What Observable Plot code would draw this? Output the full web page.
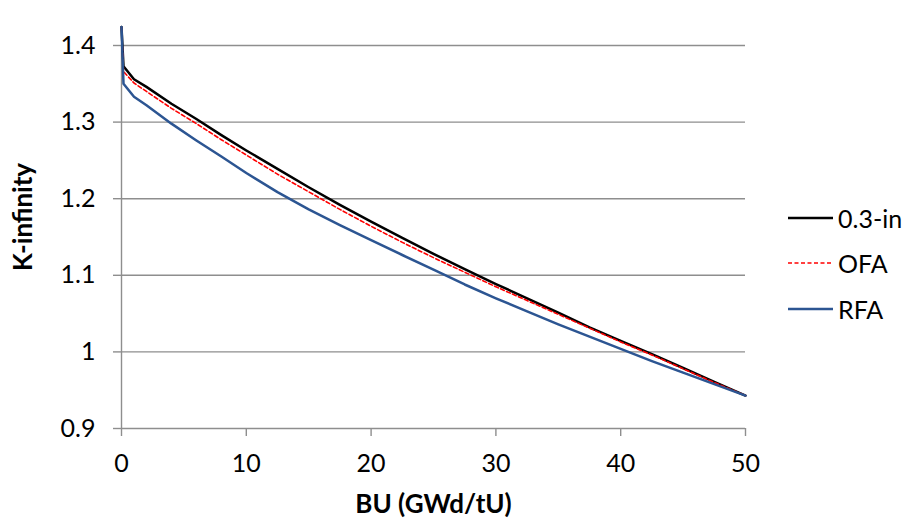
<!DOCTYPE html>
<html>
<head>
<meta charset="utf-8">
<script src="https://cdn.jsdelivr.net/npm/d3@7"></script>
<script src="https://cdn.jsdelivr.net/npm/@observablehq/plot@0.6"></script>
<style>
  html, body { margin: 0; padding: 0; background: #fff; }
  #wrap { position: relative; width: 907px; height: 520px; font-family: Lato, "Open Sans", sans-serif; }
  #legend { position: absolute; left: 788px; top: 195px; font-size: 25px; color: #000; }
  .item { display: flex; align-items: center; height: 45.5px; }
  .item svg { margin-right: 5px; }
</style>
</head>
<body>
<div id="wrap"></div>
<script>
// Burnup steps (GWd/tU)
const burnup = [0, 0.16, 1, 2, 4, 6, 8, 10, 12.5, 15, 17.5, 20, 22.5, 25, 27.5, 30, 32.5, 35, 37.5, 40, 42.5, 45, 47.5, 50];
// K-infinity series
const k03in = [1.424, 1.373, 1.356, 1.346, 1.324, 1.304, 1.283, 1.263, 1.239, 1.215, 1.192, 1.170, 1.149, 1.128, 1.108, 1.0886, 1.070, 1.0513, 1.032, 1.0144, 0.997, 0.979, 0.961, 0.943];
const kOFA  = [1.424, 1.366, 1.351, 1.340, 1.318, 1.298, 1.277, 1.257, 1.232, 1.209, 1.186, 1.164, 1.143, 1.123, 1.104, 1.085, 1.067, 1.049, 1.031, 1.013, 0.996, 0.978, 0.960, 0.943];
const kRFA  = [1.424, 1.350, 1.333, 1.322, 1.298, 1.276, 1.255, 1.2335, 1.2085, 1.186, 1.1655, 1.146, 1.1265, 1.1075, 1.088, 1.070, 1.053, 1.036, 1.020, 1.004, 0.988, 0.973, 0.958, 0.943];
const seriesNames = ["0.3-in", "OFA", "RFA"];
const seriesColors = ["#000000", "#ff0000", "#2c5592"];
const seriesDash = [null, "4,2.5", null];
const seriesWidth = [2.5, 1.6, 2.5];
const xTicks = [0, 10, 20, 30, 40, 50];
const yTicks = [0.9, 1.0, 1.1, 1.2, 1.3, 1.4];
const yTickLabels = ["0.9", "1", "1.1", "1.2", "1.3", "1.4"];
const xTitle = "BU (GWd/tU)";
const yTitle = "K-infinity";

const seriesValues = [k03in, kOFA, kRFA];
const rows = seriesValues.map((vals, s) => burnup.map((b, i) => ({bu: b, k: vals[i], s})));

const gridColor = "#8e8e8e";
const fontFam = "Lato, 'Open Sans', sans-serif";

const chart = Plot.plot({
  width: 907,
  height: 520,
  marginLeft: 121,
  marginRight: 162,
  marginTop: 45,
  marginBottom: 92,
  style: {fontFamily: fontFam, fontSize: "25px", color: "#000", background: "#fff", overflow: "visible"},
  x: {domain: [0, 50]},
  y: {domain: [0.9, 1.4]},
  marks: [
    Plot.gridY(yTicks, {stroke: gridColor, strokeOpacity: 1, strokeWidth: 1.4}),
    Plot.ruleX([0], {stroke: gridColor, strokeWidth: 1.4}),
    Plot.axisX(xTicks, {tickSize: 8, tickPadding: 18, stroke: gridColor, strokeWidth: 1.4, label: null, fontSize: 25, fill: "#000"}),
    Plot.axisY(yTicks, {tickSize: 8, tickPadding: 18, stroke: gridColor, strokeWidth: 1.4, label: null, fontSize: 25, fill: "#000",
      tickFormat: d => yTickLabels[yTicks.findIndex(t => Math.abs(t - d) < 1e-9)]}),
    ...rows.map((data, s) => Plot.line(data, {
      x: "bu", y: "k", stroke: seriesColors[s], strokeWidth: seriesWidth[s],
      strokeDasharray: seriesDash[s], clip: false
    })),
    Plot.text([yTitle], {frameAnchor: "left", textAnchor: "middle", dx: -98, dy: -20, rotate: -90, fontWeight: "bold", fontSize: 26, fill: "#000"}),
    Plot.text([xTitle], {frameAnchor: "bottom", textAnchor: "middle", dy: 76, fontWeight: "bold", fontSize: 26, fill: "#000", lineAnchor: "middle"})
  ]
});

const wrap = document.getElementById("wrap");
wrap.appendChild(chart);

const legend = document.createElement("div");
legend.id = "legend";
seriesNames.forEach((name, s) => {
  const item = document.createElement("div");
  item.className = "item";
  const dash = seriesDash[s] ? `stroke-dasharray="${seriesDash[s]}"` : "";
  item.innerHTML = `<svg width="45" height="10"><line x1="0" y1="5" x2="45" y2="5" stroke="${seriesColors[s]}" stroke-width="${seriesWidth[s]}" ${dash}/></svg><span>${name}</span>`;
  legend.appendChild(item);
});
wrap.appendChild(legend);
</script>
</body>
</html>
